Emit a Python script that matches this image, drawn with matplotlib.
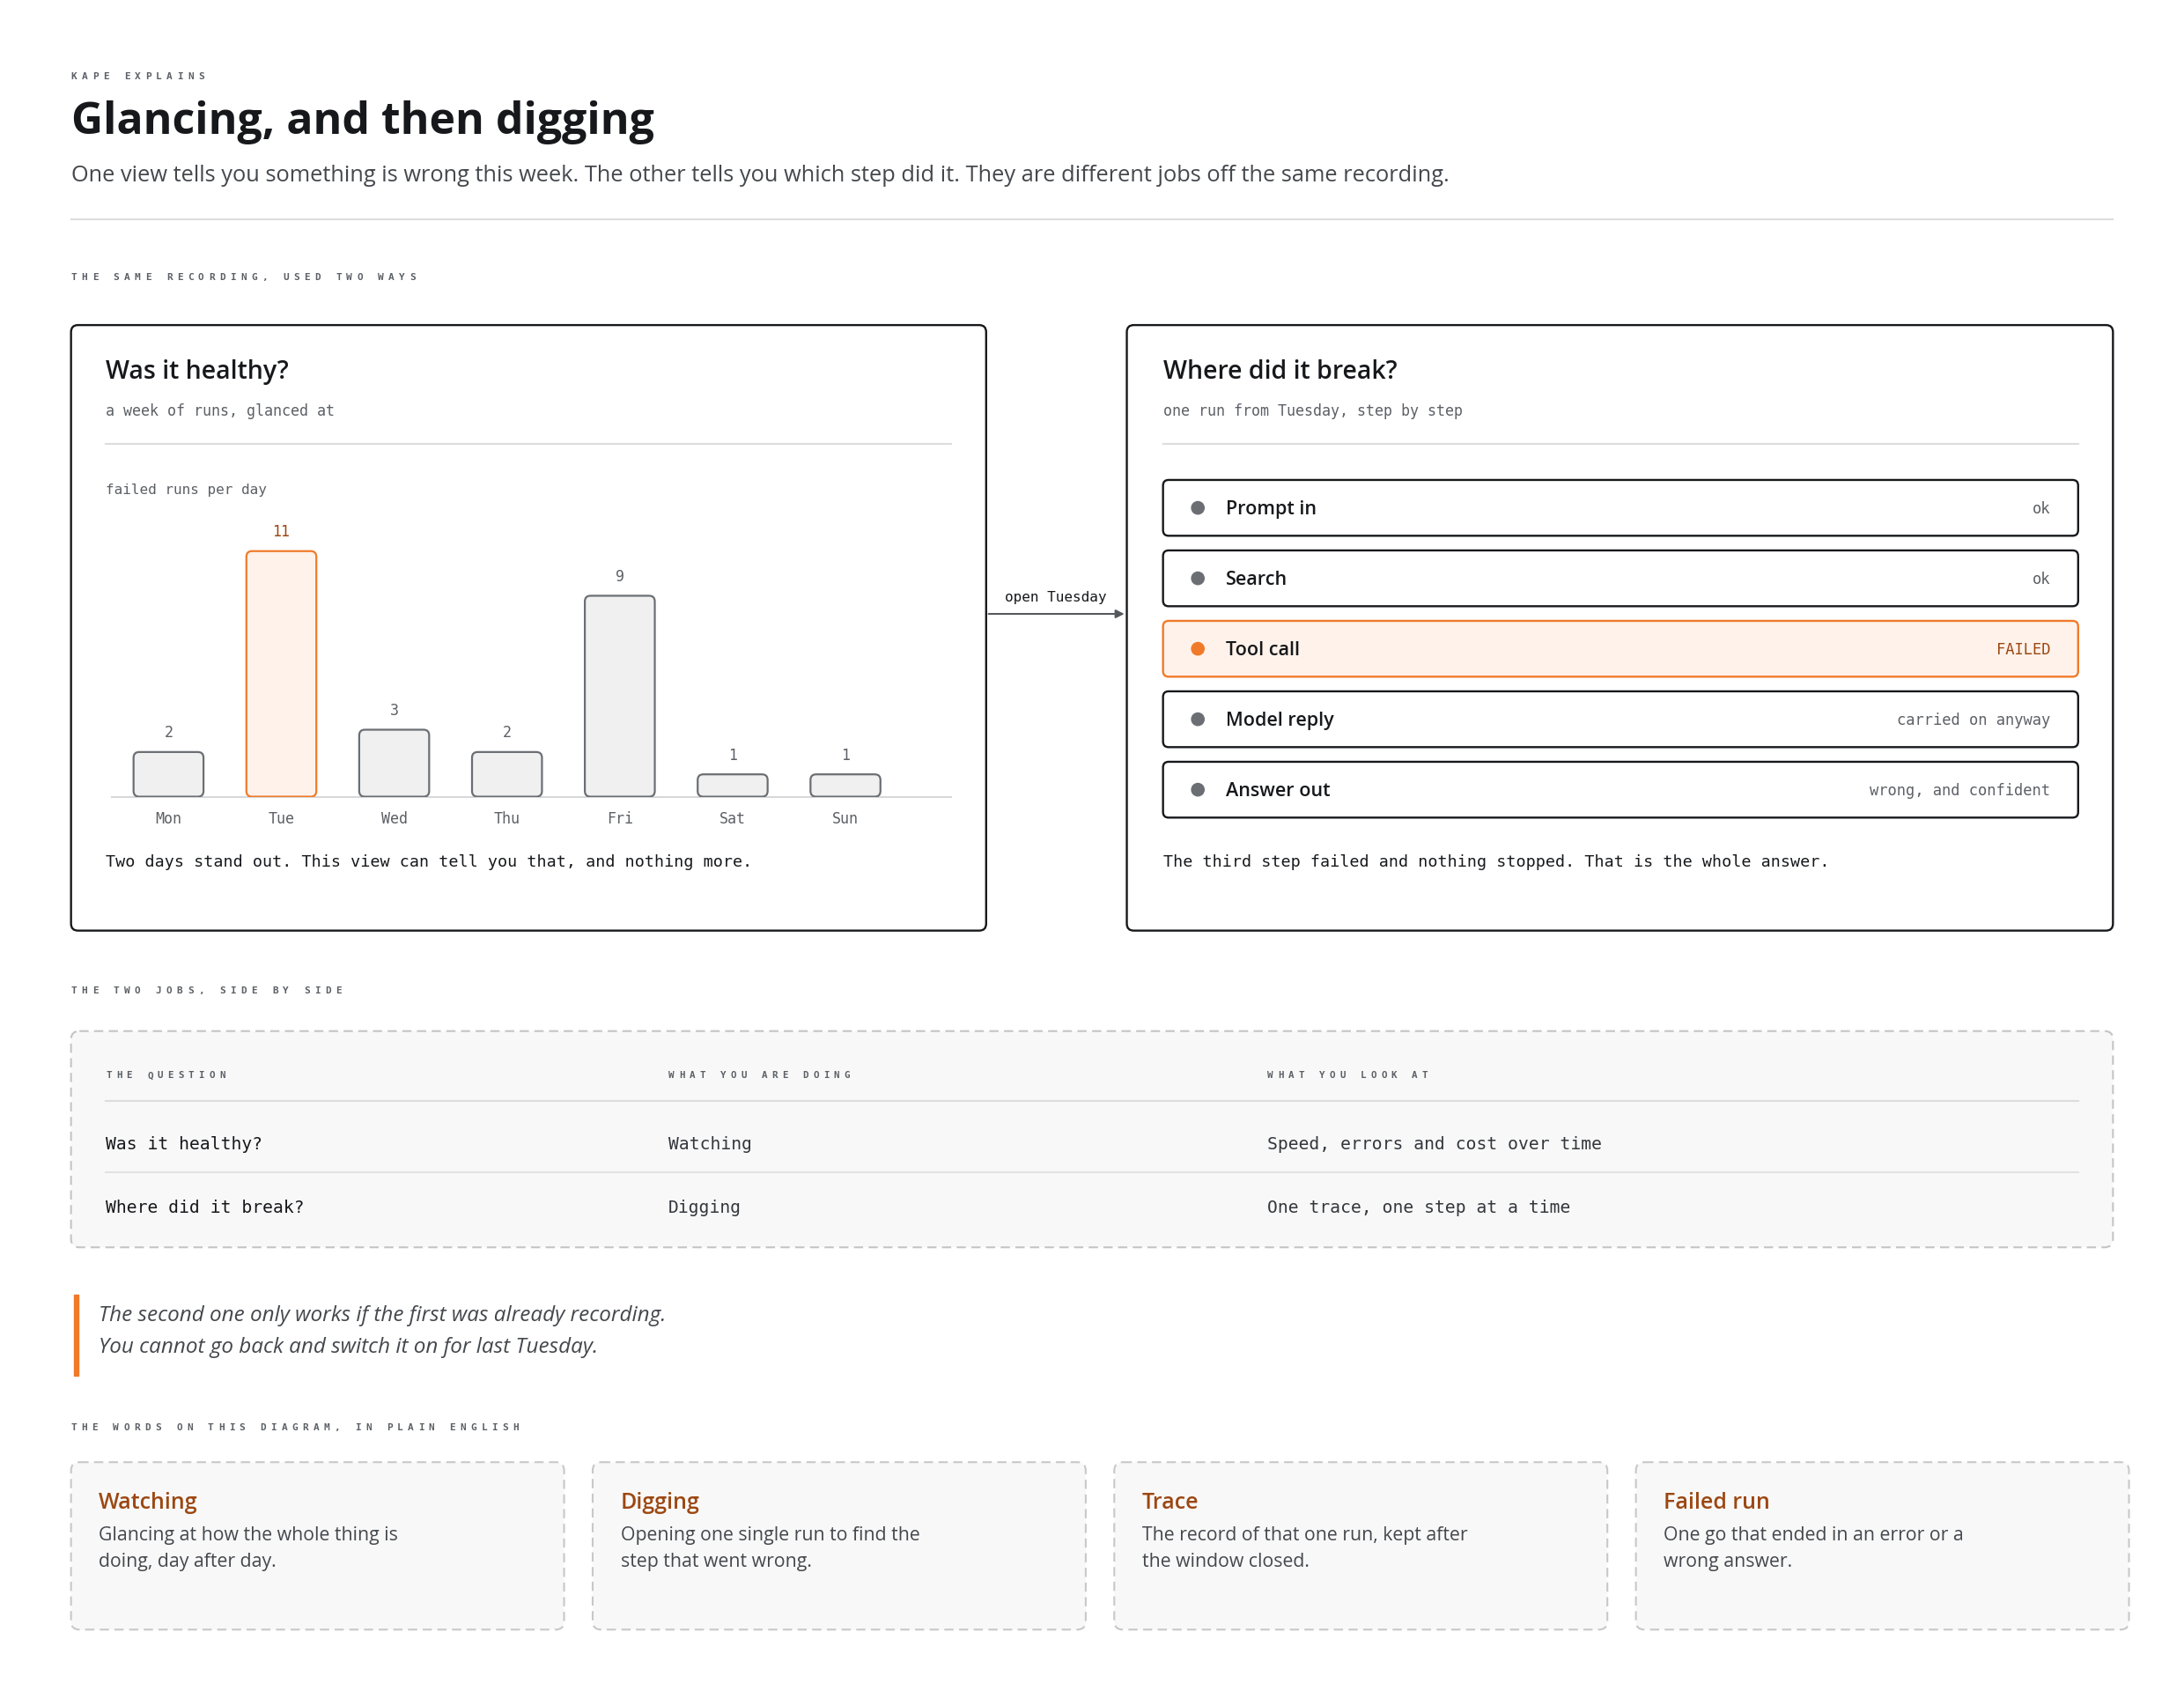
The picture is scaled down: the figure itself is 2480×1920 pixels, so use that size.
import matplotlib.pyplot as plt
from matplotlib.patches import FancyBboxPatch, Rectangle
from matplotlib.lines import Line2D

# ---- data ----
days = ["Mon", "Tue", "Wed", "Thu", "Fri", "Sat", "Sun"]
failed_runs = [2, 11, 3, 2, 9, 1, 1]
highlight_day = "Tue"

steps = ["Prompt in", "Search", "Tool call", "Model reply", "Answer out"]
step_notes = ["ok", "ok", "FAILED", "carried on anyway", "wrong, and confident"]
failed_step = "Tool call"

table_headers = ["THE QUESTION", "WHAT YOU ARE DOING", "WHAT YOU LOOK AT"]
table_rows = [
    ["Was it healthy?", "Watching", "Speed, errors and cost over time"],
    ["Where did it break?", "Digging", "One trace, one step at a time"],
]

gloss_titles = ["Watching", "Digging", "Trace", "Failed run"]
gloss_texts = [
    "Glancing at how the whole thing is\ndoing, day after day.",
    "Opening one single run to find the\nstep that went wrong.",
    "The record of that one run, kept after\nthe window closed.",
    "One go that ended in an error or a\nwrong answer.",
]

W, H = 1568, 1212
SANS = ["Open Sans", "DejaVu Sans"]
MONO = ["DejaVu Sans Mono"]
INK = "#16181b"
GREY = "#5c6066"
ORANGE = "#f07a2a"
ORANGE_TXT = "#9c4712"

fig = plt.figure(figsize=(24.8, 19.2), dpi=100)
fig.patch.set_facecolor("white")
ax = fig.add_axes([0, 0, 1, 1])
ax.set_xlim(0, W)
ax.set_ylim(H, 0)
ax.axis("off")


def txt(x, y, s, size, color=INK, family=SANS, **kw):
    ax.text(x, y, s, fontsize=size, color=color, family=family, va="center", **kw)


def spaced(x, y, s, step=7.6, size=8):
    # letter-spaced caps label, one glyph at a time
    for k, ch in enumerate(s):
        if ch != " ":
            ax.text(x + k * step, y, ch, fontsize=size, color=GREY, family=MONO,
                    weight="bold", va="center", ha="left")


def rbox(x0, y0, x1, y1, ec, fc="none", lw=1.7, ls="-", r=5, z=1):
    ax.add_patch(FancyBboxPatch((x0, y0), x1 - x0, y1 - y0,
                                boxstyle=f"round,pad=0,rounding_size={r}",
                                ec=ec, fc=fc, lw=lw, ls=ls, zorder=z))


# ---- header ----
spaced(51, 55, "KAPE EXPLAINS")
txt(51, 88, "Glancing, and then digging", 36, INK, weight="bold")
txt(51, 126, "One view tells you something is wrong this week. The other tells you which step did it. "
             "They are different jobs off the same recording.", 18.3, "#44484d")
ax.add_line(Line2D([51, 1517], [157, 157], color="#dddddd", lw=1.5))
spaced(51, 199, "THE SAME RECORDING, USED TWO WAYS")

# ---- left panel ----
rbox(51, 233, 708, 667, INK, "white")
txt(76, 267, "Was it healthy?", 20.5, INK, weight="semibold")
txt(76, 295, "a week of runs, glanced at", 12, GREY, MONO)
ax.add_line(Line2D([76, 683], [318, 318], color="#dddddd", lw=1.5))
txt(76, 351, "failed runs per day", 11.5, GREY, MONO)
ax.add_line(Line2D([80, 683], [571.5, 571.5], color="#d8d8d8", lw=1.5, zorder=3))
txt(76, 618, "Two days stand out. This view can tell you that, and nothing more.", 13.2, INK, MONO)

# bar chart inset: x -0.5..6.5 -> 80.5..647.5, y 0..12 -> 571..379
bx0, bx1, by0, by1 = 80.5, 647.5, 379, 571
bax = fig.add_axes([bx0 / W, 1 - by1 / H, (bx1 - bx0) / W, (by1 - by0) / H])
bax.set_xlim(-0.5, 6.5)
bax.set_ylim(0, 12)
bax.axis("off")
aspect = (12 / (by1 - by0)) / (7 / (bx1 - bx0))
for i, (d, v) in enumerate(zip(days, failed_runs)):
    hot = d == highlight_day
    bax.add_patch(FancyBboxPatch((i - 0.31, 0), 0.62, v,
                                 boxstyle="round,pad=0,rounding_size=0.05",
                                 mutation_aspect=aspect,
                                 ec=ORANGE if hot else "#6b6f74",
                                 fc="#fff2ea" if hot else "#eff0ef", lw=1.6))
    bax.text(i, v + 0.85, str(v), ha="center", va="center", fontsize=12,
             family=MONO, color=ORANGE_TXT if hot else GREY)
    bax.text(i, -1.0, d, ha="center", va="center", fontsize=12, family=MONO,
             color=GREY, clip_on=False)

# ---- connector ----
ax.annotate("", xy=(809, 440), xytext=(708, 440),
            arrowprops=dict(arrowstyle="-|>", color="#55595e", lw=1.5, mutation_scale=14))
txt(758, 428, "open Tuesday", 11.5, INK, MONO, ha="center")

# ---- right panel ----
rbox(809, 233, 1517, 667, INK, "white")
txt(835, 267, "Where did it break?", 20.5, INK, weight="semibold")
txt(835, 295, "one run from Tuesday, step by step", 12, GREY, MONO)
ax.add_line(Line2D([835, 1492], [318, 318], color="#dddddd", lw=1.5))
for i, (s, note) in enumerate(zip(steps, step_notes)):
    y0 = 344 + i * 50.5
    hot = s == failed_step
    rbox(835, y0, 1492, y0 + 40, ORANGE if hot else INK,
         "#fff2ea" if hot else "white", lw=1.7, r=4)
    ym = y0 + 20
    ax.add_patch(plt.Circle((860, ym), 4.5, color=ORANGE if hot else "#6b6f74", zorder=3))
    txt(880, ym + 1, s, 15.5, INK, weight="semibold")
    txt(1472, ym + 1, note, 12.3, ORANGE_TXT if hot else GREY, MONO, ha="right")
txt(835, 618, "The third step failed and nothing stopped. That is the whole answer.", 13.2, INK, MONO)

# ---- table ----
spaced(51, 710, "THE TWO JOBS, SIDE BY SIDE")
rbox(51, 739, 1517, 894, "#c4c4c4", "#f8f8f8", lw=1.5, ls=(0, (5, 3)), r=6)
cols = [76, 480, 910]
for x, h in zip(cols, table_headers):
    spaced(x, 771, h, step=7.4, size=7.8)
ax.add_line(Line2D([76, 1492], [789, 789], color="#dddddd", lw=1.5))
ax.add_line(Line2D([76, 1492], [840, 840], color="#e2e2e2", lw=1.5))
for r, row in enumerate(table_rows):
    y = 820 + r * 46
    for c, (x, v) in enumerate(zip(cols, row)):
        txt(x, y, v, 14.1, INK if c == 0 else "#33373c", MONO)

# ---- quote ----
ax.add_patch(Rectangle((53, 928), 3, 58, color=ORANGE))
txt(71, 943, "The second one only works if the first was already recording.", 17.5, "#44484d", style="italic")
txt(71, 966, "You cannot go back and switch it on for last Tuesday.", 17.5, "#44484d", style="italic")

# ---- glossary ----
spaced(51, 1023, "THE WORDS ON THIS DIAGRAM, IN PLAIN ENGLISH", step=7.55)
for i, (t, body) in enumerate(zip(gloss_titles, gloss_texts)):
    x0 = 51 + i * 374.5
    rbox(x0, 1048, x0 + 354, 1168, "#c8c8c8", "#f8f8f8", lw=1.5, ls=(0, (5, 3)), r=6)
    txt(x0 + 20, 1077, t, 18, ORANGE_TXT, weight="semibold")
    ax.text(x0 + 20, 1094, body, fontsize=15.3, color="#44484d", family=SANS,
            va="top", linespacing=1.55)

fig.savefig("out.png", dpi=100, facecolor="white")
